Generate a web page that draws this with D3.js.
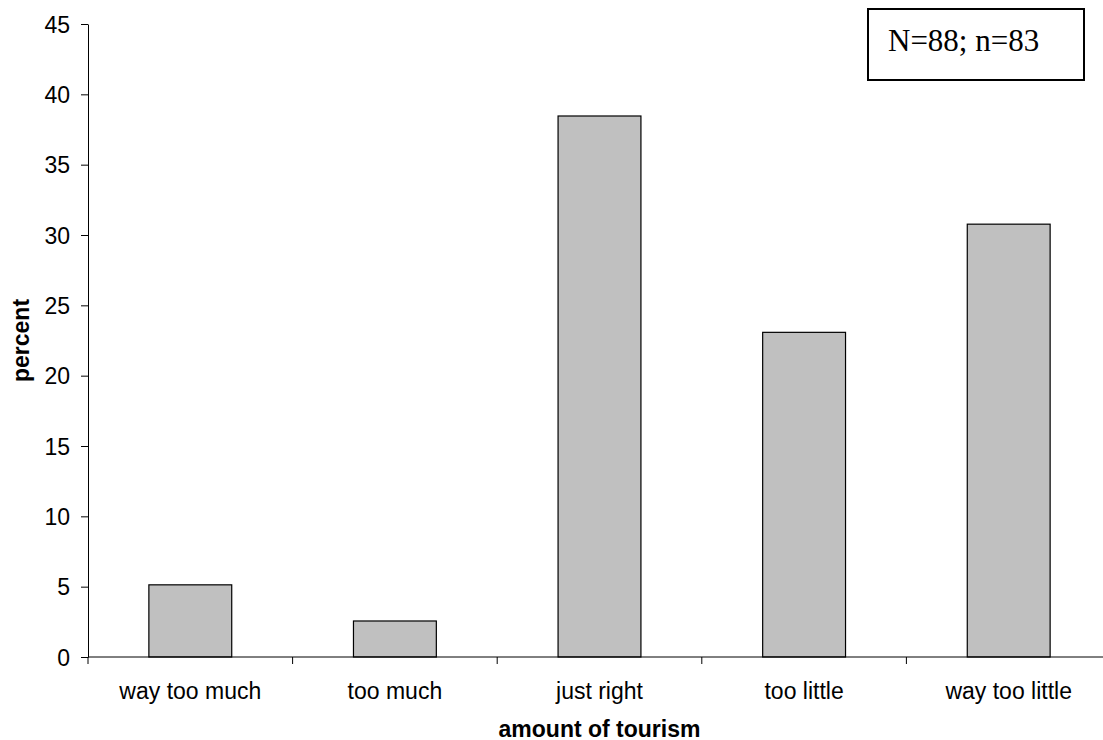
<!DOCTYPE html>
<html>
<head>
<meta charset="utf-8">
<script src="https://cdn.jsdelivr.net/npm/d3@7"></script>
<style>
  body { margin: 0; background: #fff; }
  svg { display: block; }
  .axis text { font-family: Arial, "Liberation Sans", sans-serif; font-size: 23px; fill: #000; }
  .axis path, .axis line { stroke: #000; stroke-width: 1; }
</style>
</head>
<body>
<div id="chart"></div>
<script>
// categories and percentages (39 respondents with answers)
const categories = ["way too much", "too much", "just right", "too little", "way too little"];
const percents = [5.13, 2.56, 38.46, 23.08, 30.77];
const yTicks = [0, 5, 10, 15, 20, 25, 30, 35, 40, 45];
const noteText = "N=88; n=83";

const width = 1103, height = 740;
const margin = { top: 24, right: -8, bottom: 83, left: 88 };
const innerW = width - margin.left - margin.right;
const innerH = height - margin.top - margin.bottom;

const svg = d3.select("#chart").append("svg")
  .attr("width", width)
  .attr("height", height);

const g = svg.append("g")
  .attr("transform", `translate(${margin.left},${margin.top})`);

// x scale: one step per category, bar in the middle
const x = d3.scaleBand()
  .domain(categories)
  .range([0, innerW])
  .paddingInner(0.595)
  .paddingOuter(0.2975);

const y = d3.scaleLinear()
  .domain([0, 45])
  .range([innerH, 0]);

// bars
g.selectAll("rect.bar")
  .data(categories)
  .enter().append("rect")
  .attr("class", "bar")
  .attr("x", d => x(d))
  .attr("y", (d, i) => y(percents[i]))
  .attr("width", x.bandwidth())
  .attr("height", (d, i) => y(0) - y(percents[i]))
  .attr("fill", "#c0c0c0")
  .attr("stroke", "#000")
  .attr("stroke-width", 1.2);

// y axis
const yAxis = g.append("g")
  .attr("class", "axis")
  .call(d3.axisLeft(y).tickValues(yTicks).tickSize(7).tickPadding(11).tickSizeOuter(0));
yAxis.selectAll("text").attr("dy", "0.36em");

// x axis with ticks at category boundaries
const step = x.step();
const xAxis = g.append("g")
  .attr("class", "axis")
  .attr("transform", `translate(0,${innerH})`);
xAxis.append("line")
  .attr("x1", 0).attr("x2", innerW)
  .attr("y1", 0).attr("y2", 0);
xAxis.selectAll("line.tick")
  .data(d3.range(categories.length + 1))
  .enter().append("line")
  .attr("class", "tick")
  .attr("x1", i => i * step).attr("x2", i => i * step)
  .attr("y1", 0).attr("y2", 7);
xAxis.selectAll("text")
  .data(categories)
  .enter().append("text")
  .attr("x", d => x(d) + x.bandwidth() / 2)
  .attr("y", 42)
  .attr("text-anchor", "middle")
  .text(d => d);

// axis titles
svg.append("text")
  .attr("x", margin.left + step * categories.length / 2)
  .attr("y", 737)
  .attr("text-anchor", "middle")
  .style("font-family", "Arial, 'Liberation Sans', sans-serif")
  .style("font-size", "23px")
  .style("font-weight", "bold")
  .text("amount of tourism");

svg.append("text")
  .attr("transform", `translate(29,${margin.top + innerH / 2}) rotate(-90)`)
  .attr("text-anchor", "middle")
  .style("font-family", "Arial, 'Liberation Sans', sans-serif")
  .style("font-size", "23px")
  .style("font-weight", "bold")
  .text("percent");

// note box
svg.append("rect")
  .attr("x", 868).attr("y", 9)
  .attr("width", 216).attr("height", 71)
  .attr("fill", "#fff")
  .attr("stroke", "#000")
  .attr("stroke-width", 2);

svg.append("text")
  .attr("x", 888)
  .attr("y", 51)
  .style("font-family", "'Liberation Serif', 'Times New Roman', serif")
  .style("font-size", "31px")
  .text(noteText);
</script>
</body>
</html>
